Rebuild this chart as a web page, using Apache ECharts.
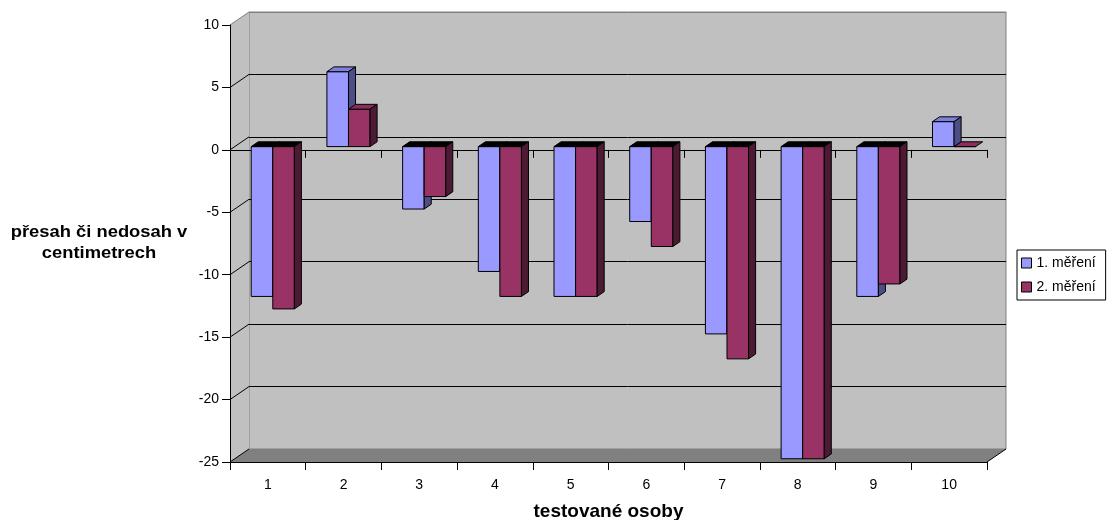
<!DOCTYPE html>
<html><head><meta charset="utf-8">
<script src="https://cdn.jsdelivr.net/npm/echarts@6/dist/echarts.min.js"></script>
<style>html,body{margin:0;padding:0;background:#fff}#c{width:1110px;height:520px}</style>
</head><body><div id="c"></div>
<script>
// ---- data ----
const categories = ['1','2','3','4','5','6','7','8','9','10'];
const mereni1 = [-12, 6, -5, -10, -12, -6, -15, -25, -12, 2];
const mereni2 = [-13, 3, -4, -12, -12, -8, -17, -25, -11, 0];
const seriesNames = ['1. měření', '2. měření'];
const yTicks = [-25, -20, -15, -10, -5, 0, 5, 10];
const yName = 'přesah či nedosah v\ncentimetrech';
const xName = 'testované osoby';

// ---- layout / style ----
const FRONT = {left: 230, top: 25, width: 757, height: 437};
const DEPTH = [19, -13];
const FONT = '"Liberation Sans", Arial, sans-serif';
const COLORS = [
  {front: '#9999ff', top: '#7f7fdd', side: '#4d4d88'},
  {front: '#993366', top: '#8a2e5c', side: '#4d1a33'}
];

function barRenderer(idx) {
  const col = COLORS[idx];
  return function (params, api) {
    const cat = api.value(0), v = api.value(1);
    const band = api.size([1, 0])[0];
    const w = band * 0.285;
    const base = api.coord([cat, 0]);
    const sx = DEPTH[0] * 0.26, sy = DEPTH[1] * 0.25;
    const dx = DEPTH[0] * 0.37, dy = DEPTH[1] * 0.37;
    const x0 = base[0] + sx + (idx === 0 ? -w : 0);
    const y0 = base[1] + sy;
    const yv = api.coord([cat, v])[1] + sy;
    const yt = Math.min(y0, yv), yb = Math.max(y0, yv);
    const pos = v >= 0;
    const ytop = pos ? yv : y0;
    const ls = {stroke: '#000', lineWidth: 1};
    const children = [];
    children.push({type: 'rect', shape: {x: x0, y: yt, width: w, height: yb - yt},
      style: Object.assign({fill: col.front}, ls)});
    children.push({type: 'polygon', shape: {points: [[x0, ytop], [x0 + w, ytop], [x0 + w + dx, ytop + dy], [x0 + dx, ytop + dy]]},
      style: Object.assign({fill: pos ? col.top : '#000'}, ls)});
    if (yb - yt > 0) {
      children.push({type: 'polygon', shape: {points: [[x0 + w, yt], [x0 + w + dx, yt + dy], [x0 + w + dx, yb + dy], [x0 + w, yb]]},
        style: Object.assign({fill: col.side}, ls)});
    }
    return {type: 'group', children: children};
  };
}

function decorRenderer(params, api) {
  const cs = params.coordSys;
  const x = cs.x, y = cs.y, w = cs.width, h = cs.height;
  const DX = DEPTH[0], DY = DEPTH[1];
  const children = [];
  // side wall
  children.push({type: 'polygon', shape: {points: [[x, y], [x + DX, y + DY], [x + DX, y + h + DY], [x, y + h]]},
    style: {fill: '#c0c0c0'}});
  // floor
  children.push({type: 'polygon', shape: {points: [[x, y + h], [x + DX, y + h + DY], [x + w + DX, y + h + DY], [x + w, y + h]]},
    style: {fill: '#808080'}});
  children.push({type: 'line', shape: {x1: x + w, y1: y + h, x2: x + w + DX, y2: y + h + DY},
    style: {stroke: '#000', lineWidth: 1}});
  // diagonal tick connectors
  const maxV = yTicks[yTicks.length - 1];
  yTicks.forEach(function (v) {
    const yy = api.coord([0, v])[1];
    children.push({type: 'line', shape: {x1: x, y1: yy, x2: x + DX, y2: yy + DY},
      style: {stroke: v === maxV ? '#808080' : '#000', lineWidth: 1}});
  });
  return {type: 'group', children: children};
}

const splitColors = yTicks.map(function (v, i) { return (i === 0 || i === yTicks.length - 1) ? '#808080' : '#000'; });

const chart = echarts.init(document.getElementById('c'), null, {renderer: 'canvas'});
chart.setOption({
  animation: false,
  backgroundColor: '#fff',
  textStyle: {fontFamily: FONT},
  grid: [
    {left: FRONT.left, top: FRONT.top, width: FRONT.width, height: FRONT.height, containLabel: false,
      outerBoundsMode: 'none', z: 2},
    {left: FRONT.left + DEPTH[0], top: FRONT.top + DEPTH[1], width: FRONT.width, height: FRONT.height,
      outerBoundsMode: 'none',
      show: true, backgroundColor: '#c0c0c0', borderColor: '#808080', borderWidth: 1, z: 0}
  ],
  xAxis: [
    {type: 'category', gridIndex: 0, data: categories, position: 'bottom', boundaryGap: true, z: 2,
      axisLine: {show: true, onZero: true, lineStyle: {color: '#000', width: 1}},
      axisTick: {show: true, length: 8, lineStyle: {color: '#000'}},
      axisLabel: {show: false}, splitLine: {show: false}},
    {type: 'category', gridIndex: 0, data: categories, position: 'bottom', boundaryGap: true, z: 2,
      axisLine: {show: true, onZero: false, lineStyle: {color: '#000', width: 1}},
      axisTick: {show: true, length: 8, lineStyle: {color: '#000'}},
      axisLabel: {show: true, margin: 16, color: '#000', fontSize: 14, fontFamily: FONT},
      splitLine: {show: false},
      name: xName, nameLocation: 'middle', nameGap: 40,
      nameTextStyle: {fontFamily: FONT, fontWeight: 'bold', fontSize: 19, color: '#000'}},
    {type: 'category', gridIndex: 1, data: categories, show: false}
  ],
  yAxis: [
    {type: 'value', gridIndex: 0, min: -25, max: 10, interval: 5, z: 2,
      axisLine: {show: true, lineStyle: {color: '#000', width: 1}},
      axisTick: {show: true, length: 8, lineStyle: {color: '#000'}},
      axisLabel: {show: true, margin: 11, color: '#000', fontSize: 14, fontFamily: FONT},
      splitLine: {show: false}},
    {type: 'value', gridIndex: 1, min: -25, max: 10, interval: 5, z: 0,
      axisLine: {show: false}, axisTick: {show: false}, axisLabel: {show: false},
      splitLine: {show: true, lineStyle: {color: splitColors, width: 1}}}
  ],
  legend: {
    orient: 'vertical', left: 1017, top: 250,
    data: seriesNames,
    icon: 'rect', itemWidth: 10, itemHeight: 10, itemGap: 10,
    backgroundColor: '#fff', borderColor: '#000', borderWidth: 1, borderRadius: 0,
    padding: [6, 10, 6, 4],
    itemStyle: {borderColor: '#000', borderWidth: 1},
    textStyle: {fontFamily: FONT, fontSize: 14, color: '#000'}
  },
  graphic: [
    {type: 'text', x: 99, y: 243, scaleX: 1.08, silent: true,
      style: {text: yName, font: 'bold 17px ' + FONT, fill: '#000',
        align: 'center', verticalAlign: 'middle', textAlign: 'center', textVerticalAlign: 'middle', lineHeight: 21}}
  ],
  series: [
    {type: 'custom', name: 'decor', xAxisIndex: 1, yAxisIndex: 0, z: 1, silent: true,
      data: [[0, 0]], renderItem: decorRenderer},
    {type: 'custom', name: seriesNames[0], xAxisIndex: 1, yAxisIndex: 0, z: 3,
      itemStyle: {color: COLORS[0].front},
      encode: {x: 0, y: 1},
      data: mereni1.map(function (v, i) { return [i, v]; }),
      renderItem: barRenderer(0)},
    {type: 'custom', name: seriesNames[1], xAxisIndex: 1, yAxisIndex: 0, z: 3,
      itemStyle: {color: COLORS[1].front},
      encode: {x: 0, y: 1},
      data: mereni2.map(function (v, i) { return [i, v]; }),
      renderItem: barRenderer(1)}
  ]
});
</script>
</body></html>
